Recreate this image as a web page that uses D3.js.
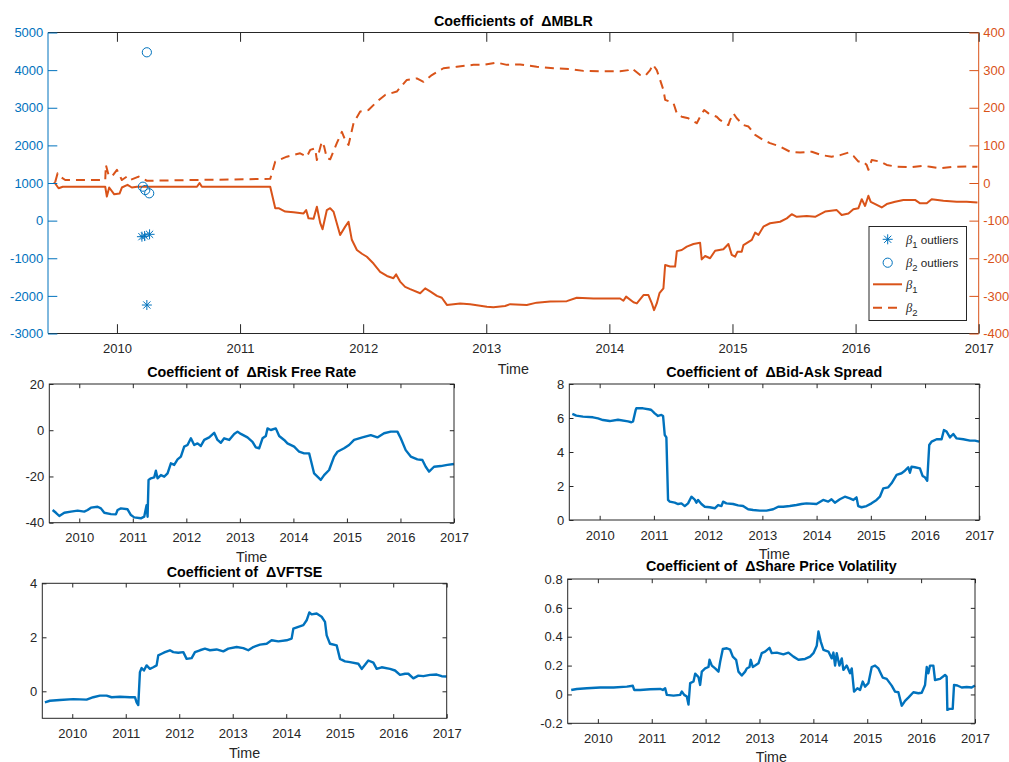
<!DOCTYPE html>
<html>
<head>
<meta charset="utf-8">
<script src="https://cdn.jsdelivr.net/npm/d3@7"></script>
<style>
  body { margin: 0; background: #fff; }
  svg { display: block; }
  text { font-family: "Liberation Sans", Arial, Helvetica, sans-serif; }
  .title { white-space: pre; }
</style>
</head>
<body>
<svg id="chart" width="1009" height="762"></svg>
<script>
// ---------- data ----------
const yearTicks = [2010, 2011, 2012, 2013, 2014, 2015, 2016, 2017];
const timeStart = 2009.44, timeEnd = 2017;

// MBLR coefficients [time, value] (right axis)
const mblrBeta1 = [
  [2009.49, 3], [2009.50, -2], [2009.526, -14], [2009.56, -10], [2009.905, -10], [2009.918, -36],
  [2009.937, -12], [2009.978, -30], [2010.021, -28], [2010.04, -12], [2010.086, -5], [2010.121, -12],
  [2010.162, -10], [2010.65, -10], [2010.671, 0], [2010.69, -10], [2011.245, -10], [2011.286, -67],
  [2011.313, -67], [2011.367, -76], [2011.435, -78], [2011.516, -81], [2011.537, -72], [2011.556, -94],
  [2011.597, -95], [2011.624, -63], [2011.651, -106], [2011.67, -123], [2011.705, -72], [2011.732, -67],
  [2011.759, -76], [2011.813, -138], [2011.854, -116], [2011.881, -103], [2011.908, -151], [2011.949, -178],
  [2011.99, -188], [2012.03, -196], [2012.084, -214], [2012.138, -236], [2012.193, -247], [2012.246, -253],
  [2012.268, -243], [2012.30, -262], [2012.341, -276], [2012.382, -282], [2012.463, -293], [2012.504, -280],
  [2012.544, -288], [2012.599, -300], [2012.639, -305], [2012.68, -324], [2012.788, -320], [2012.869, -322],
  [2013.005, -329], [2013.058, -330], [2013.153, -327], [2013.194, -322], [2013.329, -324], [2013.41, -318],
  [2013.519, -315], [2013.654, -314], [2013.735, -305], [2013.871, -307], [2014.087, -307], [2014.114, -313],
  [2014.136, -302], [2014.196, -317], [2014.223, -320], [2014.277, -298], [2014.317, -298], [2014.345, -320],
  [2014.363, -338], [2014.385, -320], [2014.407, -293], [2014.439, -280], [2014.453, -218], [2014.493, -222],
  [2014.534, -222], [2014.548, -181], [2014.588, -178], [2014.629, -169], [2014.683, -162], [2014.737, -159],
  [2014.75, -203], [2014.778, -194], [2014.818, -200], [2014.859, -180], [2014.926, -176], [2014.967, -162],
  [2014.994, -191], [2015.021, -196], [2015.04, -183], [2015.075, -183], [2015.089, -165], [2015.157, -151],
  [2015.184, -132], [2015.211, -138], [2015.251, -116], [2015.305, -107], [2015.387, -103], [2015.441, -94],
  [2015.481, -83], [2015.522, -90], [2015.603, -88], [2015.671, -90], [2015.752, -76], [2015.847, -72],
  [2015.887, -85], [2015.942, -81], [2015.982, -70], [2016.023, -67], [2016.05, -43], [2016.077, -61],
  [2016.104, -34], [2016.123, -50], [2016.172, -58], [2016.212, -65], [2016.253, -56], [2016.321, -50],
  [2016.388, -45], [2016.483, -45], [2016.524, -54], [2016.578, -54], [2016.618, -43], [2016.713, -47],
  [2016.821, -50], [2016.902, -50], [2016.99, -52]
];
const mblrBeta2 = [
  [2009.499, 3], [2009.518, 26], [2009.54, 17], [2009.58, 8], [2009.905, 8], [2009.91, 48], [2009.932, 21],
  [2009.959, 17], [2010.0, 35], [2010.027, 17], [2010.04, 8], [2010.081, 17], [2010.108, 8], [2010.176, 17],
  [2010.243, 6], [2011.245, 11], [2011.286, 57], [2011.38, 70], [2011.488, 79], [2011.543, 70], [2011.57, 88],
  [2011.61, 92], [2011.624, 61], [2011.664, 110], [2011.683, 97], [2011.705, 66], [2011.732, 63], [2011.786, 106],
  [2011.827, 136], [2011.854, 114], [2011.881, 101], [2011.922, 159], [2011.976, 190], [2012.043, 194],
  [2012.111, 216], [2012.179, 234], [2012.273, 243], [2012.355, 274], [2012.436, 278], [2012.49, 269],
  [2012.558, 287], [2012.652, 305], [2012.761, 309], [2012.896, 314], [2012.977, 314], [2013.086, 320],
  [2013.167, 314], [2013.275, 315], [2013.41, 309], [2013.546, 305], [2013.681, 303], [2013.79, 298],
  [2013.925, 297], [2014.087, 297], [2014.155, 300], [2014.182, 305], [2014.25, 287], [2014.29, 284],
  [2014.331, 300], [2014.353, 315], [2014.385, 300], [2014.412, 274], [2014.439, 247], [2014.453, 221],
  [2014.493, 216], [2014.521, 212], [2014.548, 185], [2014.588, 176], [2014.642, 172], [2014.71, 159],
  [2014.737, 176], [2014.77, 194], [2014.805, 185], [2014.872, 176], [2014.9, 167], [2014.967, 154],
  [2014.98, 167], [2015.008, 185], [2015.035, 172], [2015.089, 154], [2015.13, 150], [2015.184, 128],
  [2015.251, 114], [2015.305, 106], [2015.387, 97], [2015.468, 83], [2015.549, 81], [2015.644, 83],
  [2015.725, 74], [2015.806, 70], [2015.874, 74], [2015.942, 81], [2015.982, 72], [2016.023, 57],
  [2016.063, 57], [2016.09, 48], [2016.104, 35], [2016.131, 61], [2016.199, 57], [2016.253, 48],
  [2016.334, 43], [2016.442, 42], [2016.551, 46], [2016.605, 43], [2016.686, 39], [2016.794, 43],
  [2016.902, 44], [2016.99, 43]
];
// outliers (left axis)
const beta1Outliers = [[2010.203, -427], [2010.225, -410], [2010.265, -364], [2010.243, -2243]];
const beta2Outliers = [[2010.211, 902], [2010.23, 814], [2010.262, 726], [2010.243, 4474]];

const riskFreeRate = [
  [2009.502, -34.5], [2009.564, -35.7], [2009.627, -37.1], [2009.72, -35.7], [2009.844, -35.2], [2009.969, -34.8],
  [2010.093, -35.2], [2010.156, -34.5], [2010.218, -33.5], [2010.342, -33.1], [2010.404, -33.8], [2010.467, -35.7],
  [2010.591, -36.3], [2010.684, -36.4], [2010.716, -34.5], [2010.778, -33.8], [2010.902, -34.2], [2010.965, -36.7],
  [2011.027, -37.7], [2011.151, -38.1], [2011.213, -37.4], [2011.257, -32.4], [2011.276, -37.4], [2011.294, -21.5],
  [2011.338, -20.8], [2011.4, -20.4], [2011.431, -17.5], [2011.462, -20.8], [2011.525, -19.4], [2011.587, -20.1],
  [2011.649, -18.7], [2011.711, -14.3], [2011.773, -15], [2011.836, -12.6], [2011.898, -11.4], [2011.96, -7.1],
  [2012.022, -6.4], [2012.085, -3.5], [2012.147, -6.4], [2012.209, -5.7], [2012.271, -6.8], [2012.334, -4.2],
  [2012.427, -3.1], [2012.52, -1.1], [2012.582, -4.2], [2012.645, -5.4], [2012.707, -3.5], [2012.8, -4.2],
  [2012.894, -1.6], [2012.956, -0.6], [2013.018, -1.6], [2013.142, -3.1], [2013.236, -5], [2013.298, -7.4],
  [2013.36, -7.8], [2013.423, -3.5], [2013.485, -2.5], [2013.516, 0.8], [2013.578, 0.1], [2013.671, 0.8],
  [2013.734, -2.5], [2013.827, -4.2], [2013.889, -5.7], [2014.014, -7.1], [2014.107, -9.3], [2014.2, -10],
  [2014.294, -10], [2014.325, -12.9], [2014.387, -18.7], [2014.449, -20.1], [2014.511, -21.5], [2014.574, -19.4],
  [2014.667, -17.2], [2014.76, -11.4], [2014.823, -9.3], [2014.947, -7.8], [2015.04, -6.4], [2015.134, -4.2],
  [2015.289, -3.1], [2015.445, -2.1], [2015.569, -3.1], [2015.694, -1.3], [2015.818, -0.6], [2015.943, -0.6],
  [2016.005, -3.5], [2016.098, -8.6], [2016.192, -11.4], [2016.316, -12.6], [2016.409, -12.9], [2016.472, -15.8],
  [2016.534, -17.9], [2016.627, -15.8], [2016.752, -15.5], [2016.876, -15], [2017.0, -14.6]
];

const bidAskSpread = [
  [2009.496, 6.24], [2009.569, 6.14], [2009.692, 6.08], [2009.877, 6.04], [2009.969, 5.98], [2010.062, 5.88],
  [2010.185, 5.82], [2010.338, 5.9], [2010.523, 5.8], [2010.584, 5.75], [2010.615, 5.8], [2010.664, 6.47],
  [2010.677, 6.57], [2010.8, 6.57], [2010.923, 6.5], [2010.953, 6.47], [2011.015, 6.27], [2011.076, 6.12],
  [2011.138, 6.18], [2011.169, 6.12], [2011.2, 5.0], [2011.23, 4.86], [2011.261, 1.18], [2011.292, 1.08],
  [2011.384, 1.02], [2011.446, 0.94], [2011.507, 0.98], [2011.569, 0.82], [2011.63, 0.98], [2011.692, 1.37],
  [2011.753, 1.2], [2011.784, 1.02], [2011.815, 1.18], [2011.876, 0.94], [2011.938, 0.78], [2012.03, 0.75],
  [2012.122, 0.69], [2012.184, 0.88], [2012.245, 0.82], [2012.276, 1.08], [2012.337, 0.98], [2012.46, 0.94],
  [2012.553, 0.86], [2012.645, 0.82], [2012.737, 0.63], [2012.83, 0.59], [2012.953, 0.55], [2013.076, 0.55],
  [2013.199, 0.63], [2013.291, 0.78], [2013.383, 0.78], [2013.506, 0.82], [2013.629, 0.88], [2013.722, 0.94],
  [2013.814, 0.98], [2013.998, 0.94], [2014.121, 1.18], [2014.214, 1.08], [2014.275, 1.22], [2014.337, 1.02],
  [2014.429, 1.22], [2014.521, 1.37], [2014.613, 1.27], [2014.675, 1.18], [2014.736, 1.33], [2014.767, 0.82],
  [2014.829, 0.75], [2014.921, 0.82], [2015.013, 0.98], [2015.106, 1.18], [2015.167, 1.37], [2015.229, 1.86],
  [2015.321, 1.92], [2015.382, 2.16], [2015.475, 2.65], [2015.567, 2.75], [2015.628, 2.9], [2015.69, 3.1],
  [2015.721, 2.78], [2015.751, 3.14], [2015.813, 3.1], [2015.905, 3.04], [2015.954, 2.59], [2015.997, 2.51],
  [2016.04, 2.31], [2016.077, 4.41], [2016.12, 4.61], [2016.213, 4.75], [2016.305, 4.75], [2016.348, 5.29],
  [2016.397, 5.2], [2016.459, 4.86], [2016.52, 5.06], [2016.582, 4.8], [2016.705, 4.75], [2016.828, 4.67],
  [2016.92, 4.67], [2017.0, 4.61]
];

const vftse = [
  [2009.489, -0.41], [2009.582, -0.35], [2009.769, -0.32], [2010.019, -0.29], [2010.268, -0.31], [2010.393, -0.22],
  [2010.517, -0.16], [2010.642, -0.16], [2010.736, -0.22], [2010.891, -0.2], [2011.078, -0.22], [2011.172, -0.22],
  [2011.203, -0.41], [2011.234, -0.51], [2011.265, 0.71], [2011.297, 0.86], [2011.34, 0.77], [2011.39, 0.96],
  [2011.452, 0.83], [2011.515, 0.89], [2011.577, 0.96], [2011.608, 1.33], [2011.671, 1.39], [2011.733, 1.45],
  [2011.826, 1.52], [2011.889, 1.45], [2011.982, 1.43], [2012.076, 1.45], [2012.138, 1.2], [2012.232, 1.23],
  [2012.294, 1.45], [2012.387, 1.52], [2012.481, 1.58], [2012.574, 1.52], [2012.699, 1.55], [2012.824, 1.48],
  [2012.917, 1.58], [2013.073, 1.64], [2013.198, 1.6], [2013.291, 1.52], [2013.385, 1.64], [2013.509, 1.73],
  [2013.634, 1.76], [2013.727, 1.89], [2013.852, 1.85], [2014.008, 1.89], [2014.101, 1.95], [2014.133, 2.32],
  [2014.226, 2.39], [2014.32, 2.45], [2014.382, 2.63], [2014.432, 2.92], [2014.475, 2.85], [2014.569, 2.88],
  [2014.662, 2.76], [2014.725, 2.57], [2014.756, 2.07], [2014.818, 1.76], [2014.943, 1.7], [2015.005, 1.2],
  [2015.099, 1.11], [2015.192, 1.08], [2015.348, 1.02], [2015.411, 0.83], [2015.473, 0.98], [2015.535, 1.14],
  [2015.629, 1.06], [2015.691, 0.83], [2015.784, 0.89], [2015.94, 0.83], [2016.034, 0.77], [2016.127, 0.61],
  [2016.221, 0.65], [2016.283, 0.65], [2016.377, 0.48], [2016.47, 0.58], [2016.564, 0.56], [2016.688, 0.61],
  [2016.813, 0.62], [2016.906, 0.56], [2017.0, 0.55]
];

const sharePriceVol = [
  [2009.505, 0.031], [2009.61, 0.038], [2009.796, 0.043], [2010.043, 0.048], [2010.291, 0.048], [2010.538, 0.054],
  [2010.649, 0.06], [2010.674, 0.031], [2010.785, 0.031], [2010.971, 0.036], [2011.156, 0.038], [2011.206, 0.031],
  [2011.249, 0.043], [2011.28, -0.003], [2011.404, -0.008], [2011.527, -0.003], [2011.558, 0.02], [2011.602, -0.003],
  [2011.651, -0.015], [2011.682, -0.07], [2011.713, 0.078], [2011.775, 0.09], [2011.806, 0.144], [2011.868, 0.12],
  [2011.898, 0.066], [2011.929, 0.158], [2011.991, 0.18], [2012.053, 0.19], [2012.072, 0.24], [2012.115, 0.2],
  [2012.177, 0.18], [2012.239, 0.158], [2012.27, 0.227], [2012.319, 0.315], [2012.393, 0.32], [2012.455, 0.31],
  [2012.504, 0.262], [2012.566, 0.24], [2012.609, 0.158], [2012.671, 0.131], [2012.733, 0.158], [2012.764, 0.18],
  [2012.814, 0.19], [2012.838, 0.24], [2012.876, 0.19], [2012.919, 0.2], [2012.981, 0.216], [2013.042, 0.286],
  [2013.104, 0.297], [2013.185, 0.323], [2013.228, 0.286], [2013.321, 0.29], [2013.444, 0.278], [2013.537, 0.29],
  [2013.63, 0.262], [2013.723, 0.24], [2013.846, 0.246], [2013.939, 0.262], [2014.001, 0.286], [2014.063, 0.338],
  [2014.094, 0.436], [2014.137, 0.366], [2014.187, 0.309], [2014.279, 0.297], [2014.341, 0.25], [2014.372, 0.29],
  [2014.403, 0.2], [2014.434, 0.286], [2014.483, 0.2], [2014.527, 0.25], [2014.557, 0.17], [2014.619, 0.2],
  [2014.681, 0.147], [2014.712, 0.18], [2014.755, 0.02], [2014.817, 0.043], [2014.867, 0.031], [2014.916, 0.089],
  [2014.96, 0.054], [2015.021, 0.078], [2015.083, 0.19], [2015.145, 0.2], [2015.207, 0.18], [2015.287, 0.117],
  [2015.361, 0.108], [2015.454, 0.061], [2015.516, 0.02], [2015.578, 0.015], [2015.64, -0.078], [2015.702, -0.045],
  [2015.763, -0.022], [2015.856, 0.015], [2015.949, 0.008], [2016.011, 0.012], [2016.073, 0.066], [2016.104, 0.19],
  [2016.134, 0.147], [2016.165, 0.2], [2016.227, 0.2], [2016.258, 0.1], [2016.351, 0.108], [2016.444, 0.135],
  [2016.474, 0.124], [2016.487, -0.107], [2016.524, -0.1], [2016.586, -0.1], [2016.611, 0.066], [2016.672, 0.062],
  [2016.753, 0.048], [2016.846, 0.052], [2016.938, 0.048], [2017.0, 0.062]
];

const leftTicksMBLR = [-3000, -2000, -1000, 0, 1000, 2000, 3000, 4000, 5000];
const rightTicksMBLR = [-400, -300, -200, -100, 0, 100, 200, 300, 400];

// ---------- drawing ----------
const BLUE = "#0072BD", ORANGE = "#D95319", INK = "#262626";
const svg = d3.select("#chart");
const fmt = d => String(+d.toFixed(2));

function styleAxis(sel, color, fontSize) {
  sel.select(".domain").remove();
  sel.selectAll(".tick line").attr("stroke", color).attr("stroke-width", 1);
  sel.selectAll(".tick text").attr("fill", color).style("font-size", fontSize + "px")
     .style("font-family", '"Liberation Sans", Arial, sans-serif');
}

function hline(x1, x2, y, color) {
  svg.append("line").attr("x1", x1).attr("x2", x2).attr("y1", y).attr("y2", y)
     .attr("stroke", color).attr("stroke-width", 1);
}
function vline(x, y1, y2, color) {
  svg.append("line").attr("x1", x).attr("x2", x).attr("y1", y1).attr("y2", y2)
     .attr("stroke", color).attr("stroke-width", 1);
}

// ---- main panel: coefficients of ΔMBLR (two y axes) ----
const mainBox = { l: 48, r: 978.7, t: 32.5, b: 333.5, tick: 9.3 };
const xMain = d3.scaleLinear([timeStart, timeEnd], [mainBox.l, mainBox.r]);
const yLeft = d3.scaleLinear([-3000, 5000], [mainBox.b, mainBox.t]);
const yRight = d3.scaleLinear([-400, 400], [mainBox.b, mainBox.t]);

const lineR = d3.line().x(d => xMain(d[0])).y(d => yRight(d[1]));
svg.append("path").datum(mblrBeta2).attr("d", lineR).attr("fill", "none")
   .attr("stroke", ORANGE).attr("stroke-width", 2).attr("stroke-dasharray", "9,6")
   .attr("stroke-linejoin", "round");
svg.append("path").datum(mblrBeta1).attr("d", lineR).attr("fill", "none")
   .attr("stroke", ORANGE).attr("stroke-width", 2).attr("stroke-linejoin", "round");

// outlier markers
const star = (g, cx, cy, r) => {
  const p = d3.path();
  p.moveTo(cx - r, cy); p.lineTo(cx + r, cy);
  p.moveTo(cx, cy - r); p.lineTo(cx, cy + r);
  const k = r * 0.72;
  p.moveTo(cx - k, cy - k); p.lineTo(cx + k, cy + k);
  p.moveTo(cx - k, cy + k); p.lineTo(cx + k, cy - k);
  g.append("path").attr("d", p.toString()).attr("stroke", BLUE).attr("stroke-width", 1).attr("fill", "none");
};
const outG = svg.append("g");
beta1Outliers.forEach(d => star(outG, xMain(d[0]), yLeft(d[1]), 5));
outG.selectAll("circle").data(beta2Outliers).join("circle")
   .attr("cx", d => xMain(d[0])).attr("cy", d => yLeft(d[1])).attr("r", 4.6)
   .attr("fill", "none").attr("stroke", BLUE).attr("stroke-width", 1);

// frame
hline(mainBox.l, mainBox.r, mainBox.t, INK);
hline(mainBox.l, mainBox.r, mainBox.b, INK);
vline(mainBox.l, mainBox.t, mainBox.b, BLUE);
vline(mainBox.r, mainBox.t, mainBox.b, ORANGE);

svg.append("g").attr("transform", `translate(0,${mainBox.b})`)
   .call(d3.axisBottom(xMain).tickValues(yearTicks).tickFormat(fmt).tickSize(-mainBox.tick).tickPadding(10.5))
   .call(s => styleAxis(s, INK, 13));
svg.append("g").attr("transform", `translate(0,${mainBox.t})`)
   .call(d3.axisTop(xMain).tickValues(yearTicks).tickFormat("").tickSize(-mainBox.tick))
   .call(s => styleAxis(s, INK, 13));
svg.append("g").attr("transform", `translate(${mainBox.l},0)`)
   .call(d3.axisLeft(yLeft).tickValues(leftTicksMBLR).tickFormat(fmt).tickSize(-mainBox.tick).tickPadding(4.7))
   .call(s => styleAxis(s, BLUE, 13));
svg.append("g").attr("transform", `translate(${mainBox.r},0)`)
   .call(d3.axisRight(yRight).tickValues(rightTicksMBLR).tickFormat(fmt).tickSize(-mainBox.tick).tickPadding(4.5))
   .call(s => styleAxis(s, ORANGE, 13));

svg.append("text").attr("class", "title").attr("x", (mainBox.l + mainBox.r) / 2).attr("y", 25.5)
   .attr("text-anchor", "middle").style("font-size", "14.3px").style("font-weight", "bold").attr("fill", "#000")
   .text("Coefficients of  ΔMBLR");
svg.append("text").attr("x", (mainBox.l + mainBox.r) / 2).attr("y", 374).attr("text-anchor", "middle")
   .style("font-size", "14.3px").attr("fill", INK).text("Time");

// legend
const lg = svg.append("g");
lg.append("rect").attr("x", 869).attr("y", 226.5).attr("width", 97.5).attr("height", 94)
  .attr("fill", "#fff").attr("stroke", INK).attr("stroke-width", 1);
star(lg, 887.7, 239.3, 5);
lg.append("circle").attr("cx", 887.7).attr("cy", 262.7).attr("r", 4.6)
  .attr("fill", "none").attr("stroke", BLUE).attr("stroke-width", 1);
lg.append("line").attr("x1", 873).attr("x2", 902).attr("y1", 284.3).attr("y2", 284.3)
  .attr("stroke", ORANGE).attr("stroke-width", 2);
lg.append("line").attr("x1", 873).attr("x2", 902).attr("y1", 307.7).attr("y2", 307.7)
  .attr("stroke", ORANGE).attr("stroke-width", 2).attr("stroke-dasharray", "9,6");
const legendItems = [
  { sub: "1", rest: " outliers", y: 243.5 },
  { sub: "2", rest: " outliers", y: 266.9 },
  { sub: "1", rest: "", y: 288.5 },
  { sub: "2", rest: "", y: 311.9 }
];
legendItems.forEach(it => {
  const t = lg.append("text").attr("x", 906).attr("y", it.y).attr("fill", INK).style("font-size", "11.7px");
  t.append("tspan").style("font-family", '"Liberation Serif", serif').style("font-style", "italic")
   .style("font-size", "12.5px").text("β");
  t.append("tspan").attr("dy", 4).style("font-size", "9.5px").text(it.sub);
  if (it.rest) t.append("tspan").attr("dy", -4).text(it.rest);
});

// ---- small panels ----
function panel(cfg) {
  const x = d3.scaleLinear([timeStart, timeEnd], [cfg.l, cfg.r]);
  const y = d3.scaleLinear(cfg.yDomain, [cfg.b, cfg.t]);
  const tick = 4.2;
  svg.append("path").datum(cfg.data)
     .attr("d", d3.line().x(d => x(d[0])).y(d => y(d[1])))
     .attr("fill", "none").attr("stroke", BLUE).attr("stroke-width", 2.4).attr("stroke-linejoin", "round");
  svg.append("rect").attr("x", cfg.l).attr("y", cfg.t).attr("width", cfg.r - cfg.l).attr("height", cfg.b - cfg.t)
     .attr("fill", "none").attr("stroke", INK).attr("stroke-width", 1);
  svg.append("g").attr("transform", `translate(0,${cfg.b})`)
     .call(d3.axisBottom(x).tickValues(yearTicks).tickFormat(fmt).tickSize(-tick).tickPadding(10.5))
     .call(s => styleAxis(s, INK, 13));
  svg.append("g").attr("transform", `translate(0,${cfg.t})`)
     .call(d3.axisTop(x).tickValues(yearTicks).tickFormat("").tickSize(-tick))
     .call(s => styleAxis(s, INK, 13));
  svg.append("g").attr("transform", `translate(${cfg.l},0)`)
     .call(d3.axisLeft(y).tickValues(cfg.yTicks).tickFormat(fmt).tickSize(-tick).tickPadding(5))
     .call(s => styleAxis(s, INK, 13));
  svg.append("g").attr("transform", `translate(${cfg.r},0)`)
     .call(d3.axisRight(y).tickValues(cfg.yTicks).tickFormat("").tickSize(-tick))
     .call(s => styleAxis(s, INK, 13));
  svg.append("text").attr("class", "title").attr("x", (cfg.l + cfg.r) / 2).attr("y", cfg.titleY)
     .attr("text-anchor", "middle").style("font-size", "14.3px").style("font-weight", "bold")
     .attr("fill", "#000").text(cfg.title);
  svg.append("text").attr("x", (cfg.l + cfg.r) / 2).attr("y", cfg.labelY).attr("text-anchor", "middle")
     .style("font-size", "14.3px").attr("fill", INK).text("Time");
}

panel({ l: 49.3, r: 454, t: 384, b: 522.7, yDomain: [-40, 20], yTicks: [-40, -20, 0, 20],
        data: riskFreeRate, title: "Coefficient of  ΔRisk Free Rate", titleY: 377, labelY: 561.5 });
panel({ l: 569.3, r: 979.3, t: 384, b: 520, yDomain: [0, 8], yTicks: [0, 2, 4, 6, 8],
        data: bidAskSpread, title: "Coefficient of  ΔBid-Ask Spread", titleY: 377, labelY: 559 });
panel({ l: 42.3, r: 446.7, t: 583.3, b: 718.3, yDomain: [-1, 4], yTicks: [0, 2, 4],
        data: vftse, title: "Coefficient of  ΔVFTSE", titleY: 576.5, labelY: 758 });
panel({ l: 567.7, r: 975, t: 579, b: 723.3, yDomain: [-0.2, 0.8], yTicks: [-0.2, 0, 0.2, 0.4, 0.6, 0.8],
        data: sharePriceVol, title: "Coefficient of  ΔShare Price Volatility", titleY: 571, labelY: 762 });
</script>
</body>
</html>
